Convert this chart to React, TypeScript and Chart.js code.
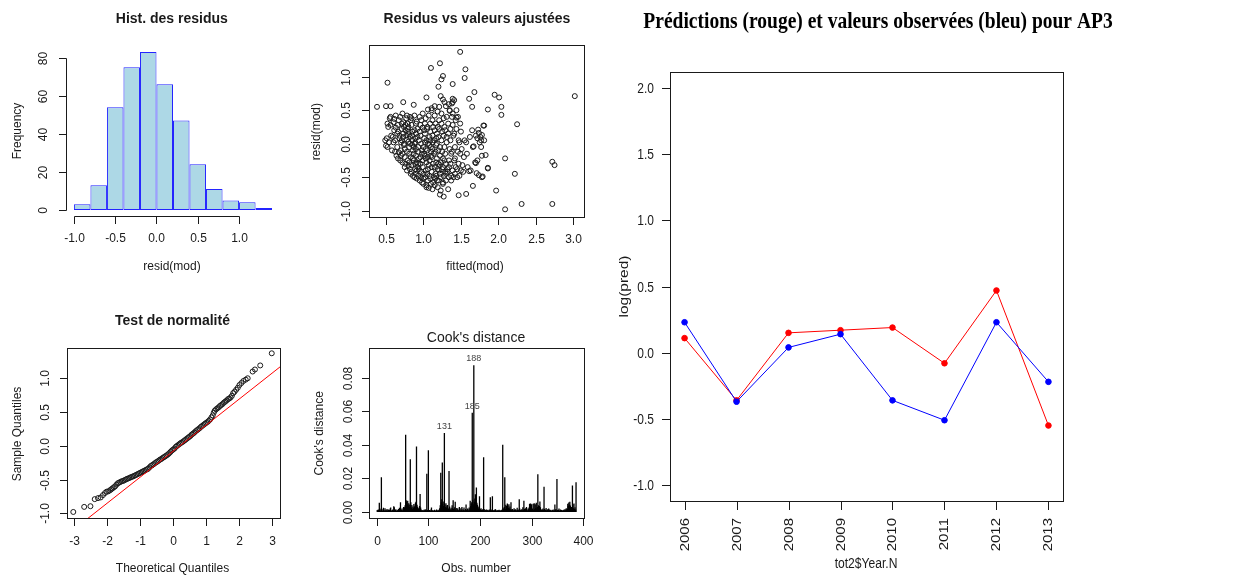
import React, { useEffect, useRef } from 'react';
import { Chart, registerables } from 'chart.js';

Chart.register(...registerables);

// ================= DATA =================
// Main chart: predictions (red) vs observed (blue)
const years = [2006, 2007, 2008, 2009, 2010, 2011, 2012, 2013];
const predicted = [0.11, -0.36, 0.15, 0.17, 0.19, -0.08, 0.47, -0.55];
const observed = [0.23, -0.37, 0.04, 0.14, -0.36, -0.51, 0.23, -0.22];
const mainYTicks = [-1.0, -0.5, 0.0, 0.5, 1.0, 1.5, 2.0];
const mainYLabels = ['-1.0', '-0.5', '0.0', '0.5', '1.0', '1.5', '2.0'];
const mainXLabels = ['2006', '2007', '2008', '2009', '2010', '2011', '2012', '2013'];

// Histogram of residuals
const histBreaks = [-1.0, -0.8, -0.6, -0.4, -0.2, 0.0, 0.2, 0.4, 0.6, 0.8, 1.0, 1.2, 1.4];
const histCounts = [3, 13, 54, 75, 83, 66, 47, 24, 11, 5, 4, 1];
const histXTicks = [-1.0, -0.5, 0.0, 0.5, 1.0];
const histXLabels = ['-1.0', '-0.5', '0.0', '0.5', '1.0'];
const histYTicks = [0, 20, 40, 60, 80];
const histYLabels = ['0', '20', '40', '60', '80'];

// Residuals vs fitted values  [fitted, resid]
const fittedResid: [number, number][] = [
  [0.38, 0.55], [0.52, 0.91], [0.50, 0.56], [0.56, 0.56], [0.73, 0.62], [0.87, 0.58], [1.49, 1.37], [1.22, 1.20],
  [1.10, 1.13], [1.56, 1.11], [1.55, 0.98], [1.26, 1.01], [1.24, 0.96], [1.20, 0.85], [1.39, 0.89], [1.04, 0.69],
  [1.68, 0.77], [1.61, 0.67], [1.65, 0.55], [1.95, 0.73], [2.01, 0.69], [2.04, 0.55], [2.04, 0.43], [1.86, 0.51],
  [1.80, 0.27], [2.25, 0.29], [3.02, 0.71], [2.72, -0.27], [2.75, -0.32], [2.09, -0.22], [2.22, -0.45], [1.86, -0.36],
  [1.78, -0.18], [1.97, -0.70], [2.09, -0.98], [2.31, -0.90], [2.72, -0.90], [1.57, -0.75], [1.47, -0.77], [1.27, -0.79],
  [1.22, -0.76], [1.33, -0.68], [1.66, -0.63], [1.61, -0.41], [1.71, -0.44], [1.79, -0.49], [1.69, -0.28], [1.67, -0.04],
  [1.23, 0.71], [1.26, 0.66], [1.15, 0.56], [1.34, 0.59], [1.35, 0.49], [1.44, 0.39], [1.39, 0.62], [1.39, 0.67],
  [1.06, 0.51], [1.11, 0.53], [1.30, 0.56],
  [1.74, 0.16], [1.76, 0.10], [1.77, 0.05], [1.75, 0.02], [1.78, 0.13], [1.73, 0.21], [1.81, 0.05], [1.83, -0.17],
  [1.70, -0.29], [1.74, -0.47], [1.78, -0.50], [1.86, -0.37], [1.81, 0.27], [1.77, -0.05], [1.72, 0.08],
  [0.50, -0.03], [0.51, 0.08], [0.49, 0.05], [0.52, 0.30], [0.53, 0.25], [0.54, 0.02], [0.52, -0.05], [0.55, 0.38],
  [0.56, 0.40], [0.57, 0.12], [0.56, 0.28], [0.58, -0.10],
  [0.60, 0.32], [0.61, 0.20], [0.59, 0.10], [0.62, -0.12], [0.60, 0.02], [0.61, 0.37], [0.63, 0.24], [0.64, -0.18],
  [0.62, 0.05], [0.65, 0.15], [0.63, 0.42], [0.66, -0.22], [0.67, 0.35], [0.65, -0.05], [0.66, 0.18], [0.68, 0.08],
  [0.67, -0.13], [0.66, 0.28],
  [0.69, 0.40], [0.70, 0.02], [0.69, -0.25], [0.71, 0.22], [0.70, -0.10], [0.68, 0.12], [0.71, 0.30], [0.70, -0.18],
  [0.72, -0.28], [0.73, 0.15], [0.72, 0.45], [0.74, -0.02], [0.73, 0.32], [0.71, 0.05], [0.72, -0.15], [0.74, 0.25],
  [0.73, 0.10], [0.75, -0.35], [0.76, 0.20], [0.75, -0.08], [0.77, 0.38], [0.74, 0.00], [0.76, 0.28], [0.75, -0.20],
  [0.77, 0.12], [0.76, -0.30], [0.78, 0.06],
  [0.78, -0.12], [0.79, 0.30], [0.78, -0.40], [0.80, 0.18], [0.79, -0.25], [0.78, 0.42], [0.80, 0.03], [0.81, -0.05],
  [0.79, 0.22], [0.80, -0.33], [0.81, -0.28], [0.82, 0.10], [0.81, -0.15], [0.83, 0.35], [0.82, -0.38], [0.80, 0.25],
  [0.82, 0.00], [0.83, -0.20], [0.81, 0.14], [0.83, -0.45], [0.82, 0.40], [0.84, -0.42], [0.85, 0.05], [0.84, 0.28],
  [0.86, -0.10], [0.84, -0.32], [0.85, 0.18], [0.86, -0.22], [0.84, 0.38], [0.85, -0.02], [0.86, -0.48], [0.85, 0.12],
  [0.87, -0.25], [0.88, 0.42], [0.87, -0.05], [0.89, -0.38], [0.88, 0.20], [0.87, -0.15], [0.89, 0.08], [0.88, -0.50],
  [0.90, 0.30], [0.89, -0.30], [0.88, 0.00], [0.90, -0.18], [0.91, 0.33], [0.90, -0.45], [0.92, 0.10], [0.91, -0.28],
  [0.90, -0.08], [0.92, 0.22], [0.91, -0.52], [0.89, 0.02], [0.92, -0.35], [0.90, 0.15], [0.91, -0.40], [0.93, -0.30],
  [0.94, 0.05], [0.93, -0.12], [0.95, 0.40], [0.94, -0.22], [0.93, -0.48], [0.95, 0.18], [0.94, -0.38], [0.96, 0.28],
  [0.93, -0.05], [0.95, -0.55],
  [0.96, -0.20], [0.97, -0.42], [0.96, 0.12], [0.98, -0.10], [0.97, 0.35], [0.96, -0.30], [0.98, -0.58], [0.97, 0.00],
  [0.99, 0.24], [0.98, -0.15], [0.97, -0.50], [0.99, 0.45], [0.99, -0.35], [1.00, -0.05], [1.01, 0.20], [0.99, -0.25],
  [1.00, -0.60], [1.01, 0.08], [1.00, -0.45], [1.02, 0.30], [1.01, -0.15], [1.00, -0.52], [1.02, 0.02], [1.02, -0.18],
  [1.03, -0.40], [1.02, 0.15], [1.04, -0.62], [1.03, -0.08], [1.03, 0.38], [1.04, -0.28], [1.02, -0.50], [1.04, 0.05],
  [1.03, -0.22], [1.05, 0.25], [1.04, -0.65],
  [1.05, -0.10], [1.06, -0.55], [1.05, 0.22], [1.07, -0.32], [1.06, 0.00], [1.05, -0.45], [1.07, 0.42], [1.06, -0.20],
  [1.07, -0.66], [1.08, 0.10], [1.06, -0.38], [1.08, -0.02], [1.08, -0.25], [1.09, 0.30], [1.08, -0.48], [1.10, -0.12],
  [1.09, 0.05], [1.10, -0.60], [1.09, 0.18], [1.11, -0.35], [1.10, -0.05], [1.11, 0.50], [1.09, -0.52], [1.10, -0.18],
  [1.11, -0.42], [1.12, 0.12], [1.11, -0.20], [1.13, -0.58], [1.12, 0.35], [1.12, -0.08], [1.13, -0.30], [1.12, 0.02],
  [1.14, -0.50], [1.13, 0.25], [1.14, -0.15], [1.12, -0.68],
  [1.15, -0.35], [1.14, 0.05], [1.16, -0.52], [1.15, 0.20], [1.16, -0.12], [1.15, 0.42], [1.17, -0.28], [1.16, -0.45],
  [1.17, 0.08], [1.15, -0.62], [1.17, -0.02], [1.16, 0.30], [1.18, -0.22], [1.17, -0.48], [1.18, 0.15], [1.19, -0.38],
  [1.18, 0.00], [1.19, 0.48], [1.20, -0.10], [1.18, -0.55], [1.19, 0.25], [1.20, -0.30], [1.19, -0.65], [1.21, -0.40],
  [1.20, 0.10], [1.22, -0.18], [1.21, 0.35], [1.20, -0.55], [1.22, -0.05], [1.21, 0.22], [1.22, -0.32], [1.23, -0.70],
  [1.21, 0.55], [1.22, -0.45],
  [1.23, -0.28], [1.24, 0.30], [1.23, -0.50], [1.25, -0.12], [1.24, 0.05], [1.25, -0.38], [1.24, 0.45], [1.26, -0.60],
  [1.25, 0.18], [1.26, -0.22], [1.26, -0.35], [1.27, 0.12], [1.27, -0.48], [1.28, -0.05], [1.27, 0.38], [1.28, -0.25],
  [1.26, -0.58], [1.28, 0.25], [1.29, -0.42], [1.28, 0.62], [1.29, -0.15], [1.30, -0.45], [1.29, 0.20], [1.30, -0.30],
  [1.31, 0.02], [1.30, -0.55], [1.31, 0.40], [1.32, -0.38], [1.31, 0.10],
  [1.32, -0.42], [1.33, 0.15], [1.34, -0.25], [1.33, 0.30], [1.34, -0.50], [1.35, -0.08], [1.34, -0.35], [1.35, 0.50],
  [1.36, -0.30], [1.36, 0.05], [1.37, -0.48], [1.36, 0.22], [1.37, -0.15], [1.38, 0.40], [1.37, -0.55], [1.38, 0.60],
  [1.39, -0.40], [1.38, -0.12], [1.39, 0.28], [1.40, -0.50], [1.40, 0.12], [1.39, 0.45], [1.41, -0.25], [1.41, 0.65],
  [1.42, -0.22], [1.41, 0.15], [1.42, -0.45], [1.43, 0.35], [1.42, -0.05], [1.43, -0.35], [1.44, 0.50],
  [1.45, -0.50], [1.44, 0.22], [1.46, -0.12], [1.45, -0.38], [1.46, 0.40], [1.47, 0.05], [1.47, -0.30], [1.48, 0.02],
  [1.48, -0.48], [1.49, 0.30], [1.49, -0.15], [1.50, -0.40], [1.51, -0.08], [1.50, 0.18], [1.52, -0.32], [1.54, -0.20],
  [1.55, 0.05], [1.53, -0.42], [1.58, -0.15], [1.57, 0.02], [1.59, -0.35], [1.62, 0.10], [1.63, -0.40], [1.66, -0.05],
  [1.65, 0.20], [1.70, 0.12], [1.72, -0.25],
];
const rvfXTicks = [0.5, 1.0, 1.5, 2.0, 2.5, 3.0];
const rvfXLabels = ['0.5', '1.0', '1.5', '2.0', '2.5', '3.0'];
const rvfYTicks = [-1.0, -0.5, 0.0, 0.5, 1.0];
const rvfYLabels = ['-1.0', '-0.5', '0.0', '0.5', '1.0'];

// Normal QQ plot  [theoretical, sample]
const qqPoints: [number, number][] = [
  [-3.02, -0.98], [-2.69, -0.905], [-2.50, -0.895], [-2.37, -0.79], [-2.27, -0.775], [-2.19, -0.765], [-2.12, -0.73],
  [-2.06, -0.70], [-2.01, -0.68], [-1.96, -0.675], [-1.91, -0.66], [-1.87, -0.645], [-1.83, -0.63], [-1.79, -0.615],
  [-1.75, -0.60], [-1.71, -0.575], [-1.67, -0.555], [-1.63, -0.545], [-1.59, -0.535], [-1.55, -0.525], [-1.51, -0.52],
  [-1.47, -0.51], [-1.43, -0.50], [-1.39, -0.49], [-1.35, -0.482], [-1.31, -0.475], [-1.27, -0.465], [-1.23, -0.457],
  [-1.19, -0.45], [-1.15, -0.44], [-1.11, -0.43], [-1.07, -0.42], [-1.03, -0.41], [-0.99, -0.40], [-0.95, -0.39],
  [-0.91, -0.38], [-0.87, -0.37], [-0.83, -0.36], [-0.79, -0.35], [-0.75, -0.34], [-0.71, -0.32], [-0.67, -0.30],
  [-0.63, -0.288], [-0.59, -0.275], [-0.55, -0.26], [-0.51, -0.245], [-0.47, -0.234], [-0.43, -0.22], [-0.39, -0.205],
  [-0.35, -0.195], [-0.31, -0.18], [-0.27, -0.168], [-0.23, -0.155], [-0.19, -0.142], [-0.15, -0.128], [-0.11, -0.11],
  [-0.07, -0.09], [-0.03, -0.07], [0.01, -0.055], [0.05, -0.04], [0.09, -0.015], [0.13, 0.0], [0.17, 0.015],
  [0.21, 0.03], [0.25, 0.045], [0.29, 0.055], [0.33, 0.07], [0.37, 0.085], [0.41, 0.10], [0.45, 0.115], [0.49, 0.13],
  [0.53, 0.145], [0.57, 0.165], [0.61, 0.18], [0.65, 0.195], [0.69, 0.215], [0.73, 0.23], [0.77, 0.245], [0.81, 0.26],
  [0.85, 0.28], [0.89, 0.295], [0.93, 0.31], [0.97, 0.325], [1.01, 0.34], [1.05, 0.353], [1.09, 0.37], [1.13, 0.39],
  [1.17, 0.42], [1.21, 0.45], [1.24, 0.49], [1.27, 0.52], [1.31, 0.54], [1.35, 0.555], [1.39, 0.57], [1.43, 0.59],
  [1.47, 0.605], [1.51, 0.62], [1.55, 0.64], [1.59, 0.655], [1.63, 0.67], [1.67, 0.69], [1.71, 0.70], [1.75, 0.715],
  [1.79, 0.74], [1.83, 0.78], [1.87, 0.80], [1.92, 0.83], [1.97, 0.86], [2.02, 0.90], [2.08, 0.93], [2.14, 0.96],
  [2.21, 0.98], [2.27, 1.00], [2.42, 1.10], [2.49, 1.13], [2.65, 1.19], [3.00, 1.37],
];
const qqIntercept = -0.083;
const qqSlope = 0.385;
const qqXTicks = [-3, -2, -1, 0, 1, 2, 3];
const qqXLabels = ['-3', '-2', '-1', '0', '1', '2', '3'];

// Cook's distance (units of 1e-4), observations 1..386
const cooksD_x1e4 = [
  12, 8, 15, 10, 54, 20, 6, 14, 206, 18, 9, 7, 25, 11, 6, 22, 9, 13, 8, 17,
  10, 6, 15, 9, 12, 20, 26, 8, 5, 11, 14, 9, 34, 28, 7, 12, 16, 9, 6, 10,
  12, 18, 9, 25, 14, 58, 20, 11, 15, 8, 22, 30, 16, 28, 40, 460, 70, 62, 45, 66,
  38, 52, 30, 44, 314, 58, 26, 41, 18, 33, 24, 47, 29, 36, 55, 60, 390, 42, 31, 25,
  18, 22, 35, 106, 27, 14, 9, 12, 6, 10, 8, 14, 7, 11, 16, 9, 228, 12, 8, 368,
  9, 12, 6, 8, 14, 26, 11, 7, 10, 5, 9, 13, 8, 6, 10, 14, 7, 9, 12, 6,
  15, 22, 40, 234, 58, 76, 294, 48, 35, 62, 470, 44, 30, 52, 26, 38, 41, 22, 19, 244,
  32, 18, 12, 25, 14, 40, 22, 70, 17, 11, 28, 60, 15, 9, 24, 13, 20, 8, 12, 30,
  14, 9, 22, 11, 30, 8, 16, 12, 26, 10, 7, 18, 44, 12, 9, 21, 15, 8, 26, 14,
  66, 35, 48, 58, 590, 72, 45, 874, 60, 80, 105, 38, 146, 55, 42, 28, 20, 33, 94, 18,
  14, 22, 12, 9, 16, 11, 326, 18, 10, 7, 13, 9, 15, 8, 12, 6, 10, 14, 9, 88,
  12, 8, 15, 94, 10, 7, 12, 9, 14, 16, 8, 6, 11, 9, 7, 10, 13, 8, 6, 9,
  12, 8, 15, 400, 22, 14, 30, 206, 18, 42, 35, 28, 50, 38, 24, 46, 20, 32, 16, 58,
  14, 9, 18, 11, 7, 22, 13, 9, 16, 10, 8, 25, 12, 9, 14, 76, 20, 11, 8, 13,
  16, 10, 28, 12, 66, 18, 9, 22, 14, 30, 11, 8, 20, 16, 26, 48, 12, 50, 18, 46,
  14, 20, 48, 12, 52, 18, 45, 24, 55, 16, 30, 224, 40, 22, 35, 62, 28, 18, 12, 9,
  14, 20, 11, 150, 18, 9, 13, 24, 8, 12, 16, 7, 20, 10, 14, 8, 11, 6, 9, 13,
  10, 7, 14, 9, 44, 12, 18, 8, 196, 11, 9, 13, 20, 7, 10, 15, 8, 12, 6, 9,
  11, 8, 14, 9, 16, 10, 22, 12, 18, 48, 35, 56, 42, 60, 38, 25, 30, 20, 158, 45,
  22, 50, 18, 28, 14, 176,
];
const cooksLabelled = [188, 185, 131];
const cooksXTicks = [0, 100, 200, 300, 400];
const cooksXLabels = ['0', '100', '200', '300', '400'];
const cooksYTicks = [0, 0.02, 0.04, 0.06, 0.08];
const cooksYLabels = ['0.00', '0.02', '0.04', '0.06', '0.08'];

// ================= DRAWING HELPERS =================
const SANS = '"Liberation Sans", Arial, sans-serif';
const SERIF = '"Liberation Serif", "Times New Roman", serif';
const INK = '#1a1a1a';

type TextItem = {
  text: string; x: number; y: number; font: string; color?: string;
  align?: CanvasTextAlign; baseline?: CanvasTextBaseline; rot?: number; sx?: number;
};
type AxisItem = {
  side: 'bottom' | 'left'; ticks: number[]; labels: string[]; tickLen: number; gap: number;
  mode: 'parallel' | 'perp'; font: string; sx?: number;
};
type Decor = { box?: boolean; axes: AxisItem[]; texts: TextItem[]; extra?: (chart: any) => void };

function drawText(ctx: CanvasRenderingContext2D, t: TextItem) {
  ctx.save();
  ctx.translate(t.x, t.y);
  if (t.sx && t.sx !== 1) ctx.scale(t.sx, 1);
  if (t.rot) ctx.rotate(t.rot);
  ctx.font = t.font;
  ctx.fillStyle = t.color || INK;
  ctx.textAlign = t.align || 'center';
  ctx.textBaseline = t.baseline || 'middle';
  ctx.fillText(t.text, 0, 0);
  ctx.restore();
}

function drawAxis(chart: any, ax: AxisItem) {
  const ctx: CanvasRenderingContext2D = chart.ctx;
  const a = chart.chartArea;
  ctx.save();
  ctx.strokeStyle = INK;
  ctx.lineWidth = 1;
  if (ax.side === 'bottom') {
    const s = chart.scales.x;
    const y0 = Math.round(a.bottom) + 0.5;
    const px = ax.ticks.map((v) => Math.round(s.getPixelForValue(v)) + 0.5);
    ctx.beginPath();
    ctx.moveTo(px[0], y0);
    ctx.lineTo(px[px.length - 1], y0);
    px.forEach((p) => { ctx.moveTo(p, y0); ctx.lineTo(p, y0 + ax.tickLen); });
    ctx.stroke();
    px.forEach((p, i) => {
      if (ax.mode === 'parallel') {
        drawText(ctx, { text: ax.labels[i], x: p, y: a.bottom + ax.gap, font: ax.font, sx: ax.sx });
      } else {
        drawText(ctx, { text: ax.labels[i], x: p, y: a.bottom + ax.gap, font: ax.font, sx: ax.sx, rot: -Math.PI / 2, align: 'right' });
      }
    });
  } else {
    const s = chart.scales.y;
    const x0 = Math.round(a.left) + 0.5;
    const py = ax.ticks.map((v) => Math.round(s.getPixelForValue(v)) + 0.5);
    ctx.beginPath();
    ctx.moveTo(x0, py[0]);
    ctx.lineTo(x0, py[py.length - 1]);
    py.forEach((p) => { ctx.moveTo(x0, p); ctx.lineTo(x0 - ax.tickLen, p); });
    ctx.stroke();
    py.forEach((p, i) => {
      if (ax.mode === 'parallel') {
        drawText(ctx, { text: ax.labels[i], x: a.left - ax.gap, y: p, font: ax.font, sx: ax.sx, rot: -Math.PI / 2 });
      } else {
        drawText(ctx, { text: ax.labels[i], x: a.left - ax.gap, y: p, font: ax.font, sx: ax.sx, align: 'right' });
      }
    });
  }
  ctx.restore();
}

function decorPlugin(d: Decor) {
  return {
    id: 'rdecor',
    afterDraw(chart: any) {
      const ctx: CanvasRenderingContext2D = chart.ctx;
      const a = chart.chartArea;
      ctx.save();
      if (d.box) {
        ctx.strokeStyle = INK;
        ctx.lineWidth = 1;
        const l = Math.round(a.left) + 0.5, t = Math.round(a.top) + 0.5;
        ctx.strokeRect(l, t, Math.round(a.right) - Math.round(a.left), Math.round(a.bottom) - Math.round(a.top));
      }
      d.axes.forEach((ax) => drawAxis(chart, ax));
      d.texts.forEach((t) => drawText(ctx, t));
      if (d.extra) d.extra(chart);
      ctx.restore();
    },
  };
}

function baseOptions(pad: any, xLim: [number, number], yLim: [number, number]) {
  return {
    responsive: false,
    maintainAspectRatio: false,
    animation: false as const,
    devicePixelRatio: 1,
    events: [] as any[],
    layout: { padding: pad },
    plugins: { legend: { display: false }, tooltip: { enabled: false }, title: { display: false } },
    scales: {
      x: { type: 'linear' as const, display: false, min: xLim[0], max: xLim[1], offset: false },
      y: { type: 'linear' as const, display: false, min: yLim[0], max: yLim[1] },
    },
  };
}

const F12 = `12px ${SANS}`;
const FT = `bold 14px ${SANS}`;

// ================= CHART CONFIGS =================
function histConfig(): any {
  const centers = histCounts.map((_, i) => (histBreaks[i] + histBreaks[i + 1]) / 2);
  return {
    type: 'bar',
    data: {
      datasets: [{
        data: centers.map((c, i) => ({ x: c, y: histCounts[i] })),
        backgroundColor: '#ADD8E6',
        borderColor: '#2424ff',
        borderWidth: 1,
        borderSkipped: false,
        barPercentage: 1,
        categoryPercentage: 1,
        inflateAmount: 0,
      }],
    },
    options: baseOptions({ left: 66, top: 45.6, right: 20, bottom: 73.7 }, [-1.096, 1.496], [-3.32, 86.32]),
    plugins: [decorPlugin({
      axes: [
        { side: 'bottom', ticks: histXTicks, labels: histXLabels, tickLen: 7.5, gap: 22, mode: 'parallel', font: F12 },
        { side: 'left', ticks: histYTicks, labels: histYLabels, tickLen: 7.5, gap: 22.5, mode: 'parallel', font: F12 },
      ],
      texts: [
        { text: 'Hist. des residus', x: 171.8, y: 22.7, font: FT, baseline: 'alphabetic' },
        { text: 'resid(mod)', x: 172, y: 267, font: F12 },
        { text: 'Frequency', x: 18, y: 131, font: F12, rot: -Math.PI / 2 },
      ],
    })],
  };
}

function rvfConfig(): any {
  return {
    type: 'scatter',
    data: {
      datasets: [{
        data: fittedResid.map(([x, y]) => ({ x, y })),
        pointRadius: 2.5,
        pointBorderWidth: 1,
        borderColor: '#1a1a1a',
        backgroundColor: 'rgba(0,0,0,0)',
        pointBackgroundColor: 'rgba(0,0,0,0)',
      }],
    },
    options: baseOptions({ left: 69.3, top: 45, right: 16, bottom: 73.3 }, [0.277, 3.143], [-1.09, 1.473]),
    plugins: [decorPlugin({
      box: true,
      axes: [
        { side: 'bottom', ticks: rvfXTicks, labels: rvfXLabels, tickLen: 7.5, gap: 23, mode: 'parallel', font: F12 },
        { side: 'left', ticks: rvfYTicks, labels: rvfYLabels, tickLen: 7.5, gap: 23, mode: 'parallel', font: F12 },
      ],
      texts: [
        { text: 'Residus vs valeurs ajustées', x: 177, y: 22.7, font: FT, baseline: 'alphabetic' },
        { text: 'fitted(mod)', x: 175, y: 267, font: F12 },
        { text: 'resid(mod)', x: 16.5, y: 131.7, font: F12, rot: -Math.PI / 2 },
      ],
    })],
  };
}

function qqConfig(): any {
  const xLim: [number, number] = [-3.22, 3.25];
  return {
    type: 'scatter',
    data: {
      datasets: [
        {
          data: xLim.map((x) => ({ x, y: qqIntercept + qqSlope * x })),
          showLine: true,
          borderColor: '#FF0000',
          borderWidth: 1,
          pointRadius: 0,
        },
        {
          data: qqPoints.map(([x, y]) => ({ x, y })),
          pointRadius: 2.5,
          pointBorderWidth: 1,
          borderColor: '#1a1a1a',
          backgroundColor: 'rgba(0,0,0,0)',
          pointBackgroundColor: 'rgba(0,0,0,0)',
        },
      ],
    },
    options: baseOptions({ left: 66.7, top: 58.3, right: 20, bottom: 57.7 }, xLim, [-1.074, 1.444]),
    plugins: [decorPlugin({
      box: true,
      axes: [
        { side: 'bottom', ticks: qqXTicks, labels: qqXLabels, tickLen: 7.5, gap: 23, mode: 'parallel', font: F12 },
        { side: 'left', ticks: rvfYTicks, labels: rvfYLabels, tickLen: 7.5, gap: 21, mode: 'parallel', font: F12 },
      ],
      texts: [
        { text: 'Test de normalité', x: 172.5, y: 35, font: FT, baseline: 'alphabetic' },
        { text: 'Theoretical Quantiles', x: 172.5, y: 279, font: F12 },
        { text: 'Sample Quantiles', x: 17.5, y: 144, font: F12, rot: -Math.PI / 2 },
      ],
    })],
  };
}

function cooksConfig(): any {
  const vals = cooksD_x1e4.map((v) => v / 10000);
  return {
    type: 'bar',
    data: {
      datasets: [{
        data: vals.map((v, i) => ({ x: i + 1, y: v })),
        backgroundColor: '#000',
        borderWidth: 0,
        barThickness: 1.3,
        inflateAmount: 0,
      }],
    },
    options: baseOptions({ left: 69.3, top: 57.7, right: 16, bottom: 57.7 }, [-14.4, 401.4], [-0.0038, 0.0978]),
    plugins: [decorPlugin({
      box: true,
      axes: [
        { side: 'bottom', ticks: cooksXTicks, labels: cooksXLabels, tickLen: 7.5, gap: 23, mode: 'parallel', font: F12 },
        { side: 'left', ticks: cooksYTicks, labels: cooksYLabels, tickLen: 7.5, gap: 21, mode: 'parallel', font: F12 },
      ],
      texts: [
        { text: "Cook's distance", x: 176, y: 52.3, font: `14px ${SANS}`, baseline: 'alphabetic' },
        { text: 'Obs. number', x: 176, y: 279, font: F12 },
        { text: "Cook's distance", x: 20, y: 143.3, font: F12, rot: -Math.PI / 2 },
      ],
      extra: (chart: any) => {
        const xs = chart.scales.x, ys = chart.scales.y;
        cooksLabelled.forEach((obs) => {
          drawText(chart.ctx, {
            text: String(obs), x: xs.getPixelForValue(obs), y: ys.getPixelForValue(vals[obs - 1]) - 6.5,
            font: `9px ${SANS}`, color: '#444',
          });
        });
      },
    })],
  };
}

function mainConfig(): any {
  const FM = `15px ${SANS}`;
  return {
    type: 'line',
    data: {
      datasets: [
        {
          data: years.map((x, i) => ({ x, y: observed[i] })),
          borderColor: '#0000FF', backgroundColor: '#0000FF',
          pointBackgroundColor: '#0000FF', pointBorderColor: '#0000FF',
          borderWidth: 1, pointRadius: 2.8, pointBorderWidth: 1, tension: 0,
        },
        {
          data: years.map((x, i) => ({ x, y: predicted[i] })),
          borderColor: '#FF0000', backgroundColor: '#FF0000',
          pointBackgroundColor: '#FF0000', pointBorderColor: '#FF0000',
          borderWidth: 1, pointRadius: 2.8, pointBorderWidth: 1, tension: 0,
        },
      ],
    },
    options: baseOptions({ left: 70, top: 72, right: 178, bottom: 75 }, [2005.72, 2013.28], [-1.12, 2.12]),
    plugins: [decorPlugin({
      box: true,
      axes: [
        { side: 'bottom', ticks: years, labels: mainXLabels, tickLen: 8.5, gap: 17, mode: 'perp', font: FM, sx: 0.85 },
        { side: 'left', ticks: mainYTicks, labels: mainYLabels, tickLen: 8.5, gap: 16, mode: 'perp', font: FM, sx: 0.8 },
      ],
      texts: [
        {
          text: 'Prédictions (rouge) et valeurs observées (bleu) pour AP3', x: 278, y: 28.3,
          font: `bold 23.5px ${SERIF}`, baseline: 'alphabetic', sx: 0.83, color: '#000',
        },
        { text: 'log(pred)', x: 24, y: 286.5, font: `15.5px ${SANS}`, rot: -Math.PI / 2, sx: 0.85 },
        { text: 'tot2$Year.N', x: 266, y: 564, font: `15.5px ${SANS}`, sx: 0.78 },
      ],
    })],
  };
}

// ================= COMPONENTS =================
function ChartCanvas(props: { left: number; top: number; width: number; height: number; build: () => any }) {
  const ref = useRef<HTMLCanvasElement>(null);
  useEffect(() => {
    if (!ref.current) return;
    const chart = new Chart(ref.current, props.build());
    return () => chart.destroy();
  }, []);
  const { left, top, width, height } = props;
  return (
    <canvas
      ref={ref}
      width={width}
      height={height}
      style={{ position: 'absolute', left, top, width, height, display: 'block' }}
    />
  );
}

export default function App() {
  return (
    <div style={{ position: 'absolute', left: 0, top: 0, width: 1241, height: 576, background: '#fff', overflow: 'hidden' }}>
      <ChartCanvas left={0} top={0} width={300} height={290} build={histConfig} />
      <ChartCanvas left={300} top={0} width={300} height={290} build={rvfConfig} />
      <ChartCanvas left={0} top={290} width={300} height={286} build={qqConfig} />
      <ChartCanvas left={300} top={290} width={300} height={286} build={cooksConfig} />
      <ChartCanvas left={600} top={0} width={641} height={576} build={mainConfig} />
    </div>
  );
}
